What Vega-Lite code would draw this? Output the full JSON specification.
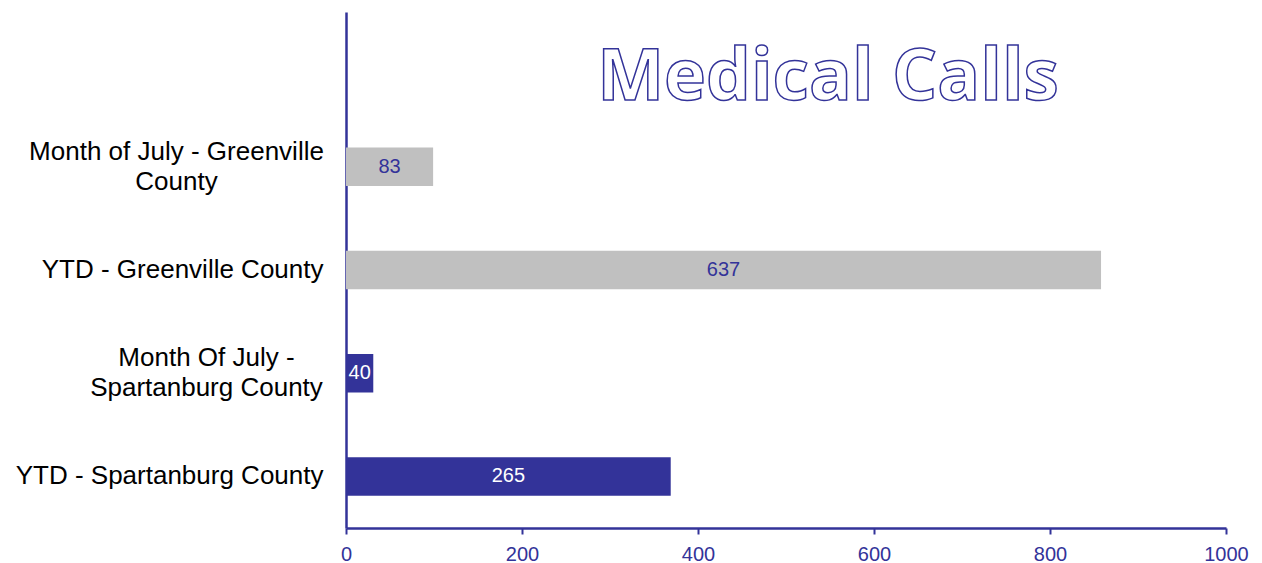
{
  "$schema": "https://vega.github.io/schema/vega-lite/v6.json",
  "width": 880,
  "height": 516,
  "autosize": {"type": "none"},
  "padding": {"left": 346, "top": 12, "right": 36, "bottom": 35},
  "background": "white",
  "title": {
    "text": "Medical Calls",
    "font": "Open Sans",
    "fontSize": 71,
    "fontWeight": "bold",
    "color": "white",
    "anchor": "middle",
    "frame": "group",
    "baseline": "alphabetic",
    "dx": 42,
    "dy": 163
  },
  "data": {
    "values": [
      {"category": "Month of July - Greenville|County", "county": "Greenville", "length": 99, "label": "83"},
      {"category": "YTD - Greenville County", "county": "Greenville", "length": 858, "label": "637"},
      {"category": "Month Of July -|Spartanburg County", "county": "Spartanburg", "length": 31, "label": "40"},
      {"category": "YTD - Spartanburg County", "county": "Spartanburg", "length": 369, "label": "265"}
    ]
  },
  "encoding": {
    "y": {
      "field": "category",
      "type": "nominal",
      "sort": null,
      "scale": {
        "domain": [" ", "Month of July - Greenville|County", "YTD - Greenville County", "Month Of July -|Spartanburg County", "YTD - Spartanburg County"],
        "paddingInner": 0.627,
        "paddingOuter": 0.3135
      },
      "axis": {
        "title": null,
        "labelExpr": "split(datum.value, '|')",
        "labelFont": "Liberation Sans",
        "labelFontSize": 26,
        "labelColor": "black",
        "labelLineHeight": 30,
        "labelAlign": {"condition": {"test": "indexof(datum.value, '|') >= 0", "value": "center"}, "value": "right"},
        "labelPadding": {"condition": [
          {"test": "datum.value == 'Month of July - Greenville|County'", "value": 170},
          {"test": "datum.value == 'Month Of July -|Spartanburg County'", "value": 140}
        ], "value": 23},
        "labelOffset": {"condition": {"test": "indexof(datum.value, '|') >= 0", "value": -15}, "value": 0},
        "labelLimit": 400,
        "ticks": false,
        "domainColor": "#333399",
        "domainWidth": 2.5,
        "grid": false
      }
    }
  },
  "layer": [
    {
      "mark": {"type": "bar"},
      "encoding": {
        "x": {
          "field": "length",
          "type": "quantitative",
          "scale": {"domain": [0, 1000], "nice": false},
          "axis": {
            "title": null,
            "values": [0, 200, 400, 600, 800, 1000],
            "format": "d",
            "labelFlush": false,
            "labelFont": "Liberation Sans",
            "labelFontSize": 20,
            "labelColor": "#333399",
            "labelPadding": 10,
            "domainColor": "#333399",
            "domainWidth": 2.5,
            "tickColor": "#333399",
            "tickWidth": 2,
            "tickSize": 6,
            "grid": false
          }
        },
        "color": {
          "field": "county",
          "type": "nominal",
          "scale": {"domain": ["Greenville", "Spartanburg"], "range": ["#C0C0C0", "#333399"]},
          "legend": null
        }
      }
    },
    {
      "mark": {"type": "text", "font": "Liberation Sans", "fontSize": 20, "align": "center", "baseline": "middle"},
      "encoding": {
        "x": {"field": "length", "type": "quantitative", "scale": {"domain": [0, 2000], "nice": false}, "axis": null},
        "text": {"field": "label"},
        "color": {
          "field": "county",
          "type": "nominal",
          "scale": {"domain": ["Greenville", "Spartanburg"], "range": ["#333399", "white"]},
          "legend": null
        }
      }
    }
  ],
  "resolve": {"scale": {"color": "independent", "x": "independent"}},
  "config": {
    "view": {"stroke": null},
    "style": {"group-title": {"stroke": "#333399", "strokeWidth": 1.5}}
  }
}
